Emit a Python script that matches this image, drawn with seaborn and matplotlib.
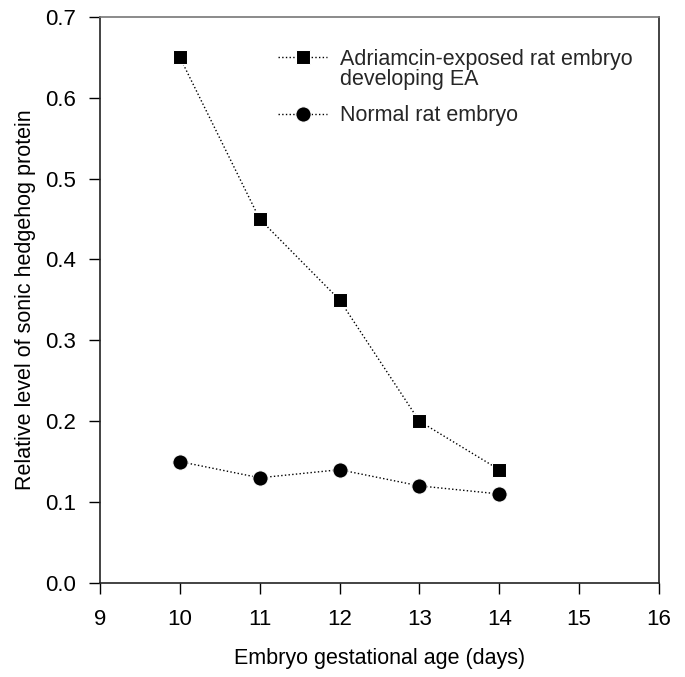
import matplotlib
matplotlib.use("Agg")
import matplotlib.pyplot as plt
import seaborn as sns

# ─── Data ─────────────────────────────────────────────────────────────────────
days = [10, 11, 12, 13, 14]
adriamycin = [0.65, 0.45, 0.35, 0.20, 0.14]
normal = [0.15, 0.13, 0.14, 0.12, 0.11]
labels = ["Adriamcin-exposed rat embryo\ndeveloping EA", "Normal rat embryo"]
x_ticks = [9, 10, 11, 12, 13, 14, 15, 16]
y_ticks = [0.0, 0.1, 0.2, 0.3, 0.4, 0.5, 0.6, 0.7]

FS = 15.5

sns.set_theme(style="ticks")
plt.rcParams["font.family"] = ["Liberation Sans", "DejaVu Sans"]

fig = plt.figure(figsize=(6.85, 6.77), dpi=100)
ax = fig.add_axes([0.146, 0.139, 0.816, 0.836])

line_kw = dict(color="black", linestyle=":", linewidth=1.0, ax=ax)
sns.lineplot(x=days, y=adriamycin, marker="s", markersize=10, label=labels[0], **line_kw)
sns.lineplot(x=days, y=normal, marker="o", markersize=11, label=labels[1], **line_kw)

ax.set_xlim(9, 16)
ax.set_ylim(0, 0.7)
ax.set_xticks(x_ticks)
ax.set_yticks(y_ticks)
ax.set_yticklabels([f"{v:.1f}" for v in y_ticks])
ax.tick_params(direction="out", length=8, width=1.0, labelsize=16, color="black",
               labelcolor="black")
ax.tick_params(axis="x", pad=11)
ax.tick_params(axis="y", pad=9.5)
for s in ax.spines.values():
    s.set_color("#222222")
    s.set_linewidth(1.2)
ax.spines["top"].set_color("#777777")

ax.set_xlabel("Embryo gestational age (days)", fontsize=FS, labelpad=13, color="black")
ax.set_ylabel("Relative level of sonic hedgehog protein", fontsize=FS, labelpad=6.5,
              color="black")

leg = ax.legend(loc="upper left", bbox_to_anchor=(0.2835, 0.978), frameon=False,
                fontsize=FS, handlelength=2.3, handleheight=1.0, labelspacing=0.7,
                handletextpad=0.6)
for t in leg.get_texts():
    t.set_linespacing(0.95)
# align each handle with the first line of its label
for col in leg._legend_handle_box.get_children():
    for item in col.get_children():
        item.align = "top"

fig.savefig("out.png", dpi=100)
